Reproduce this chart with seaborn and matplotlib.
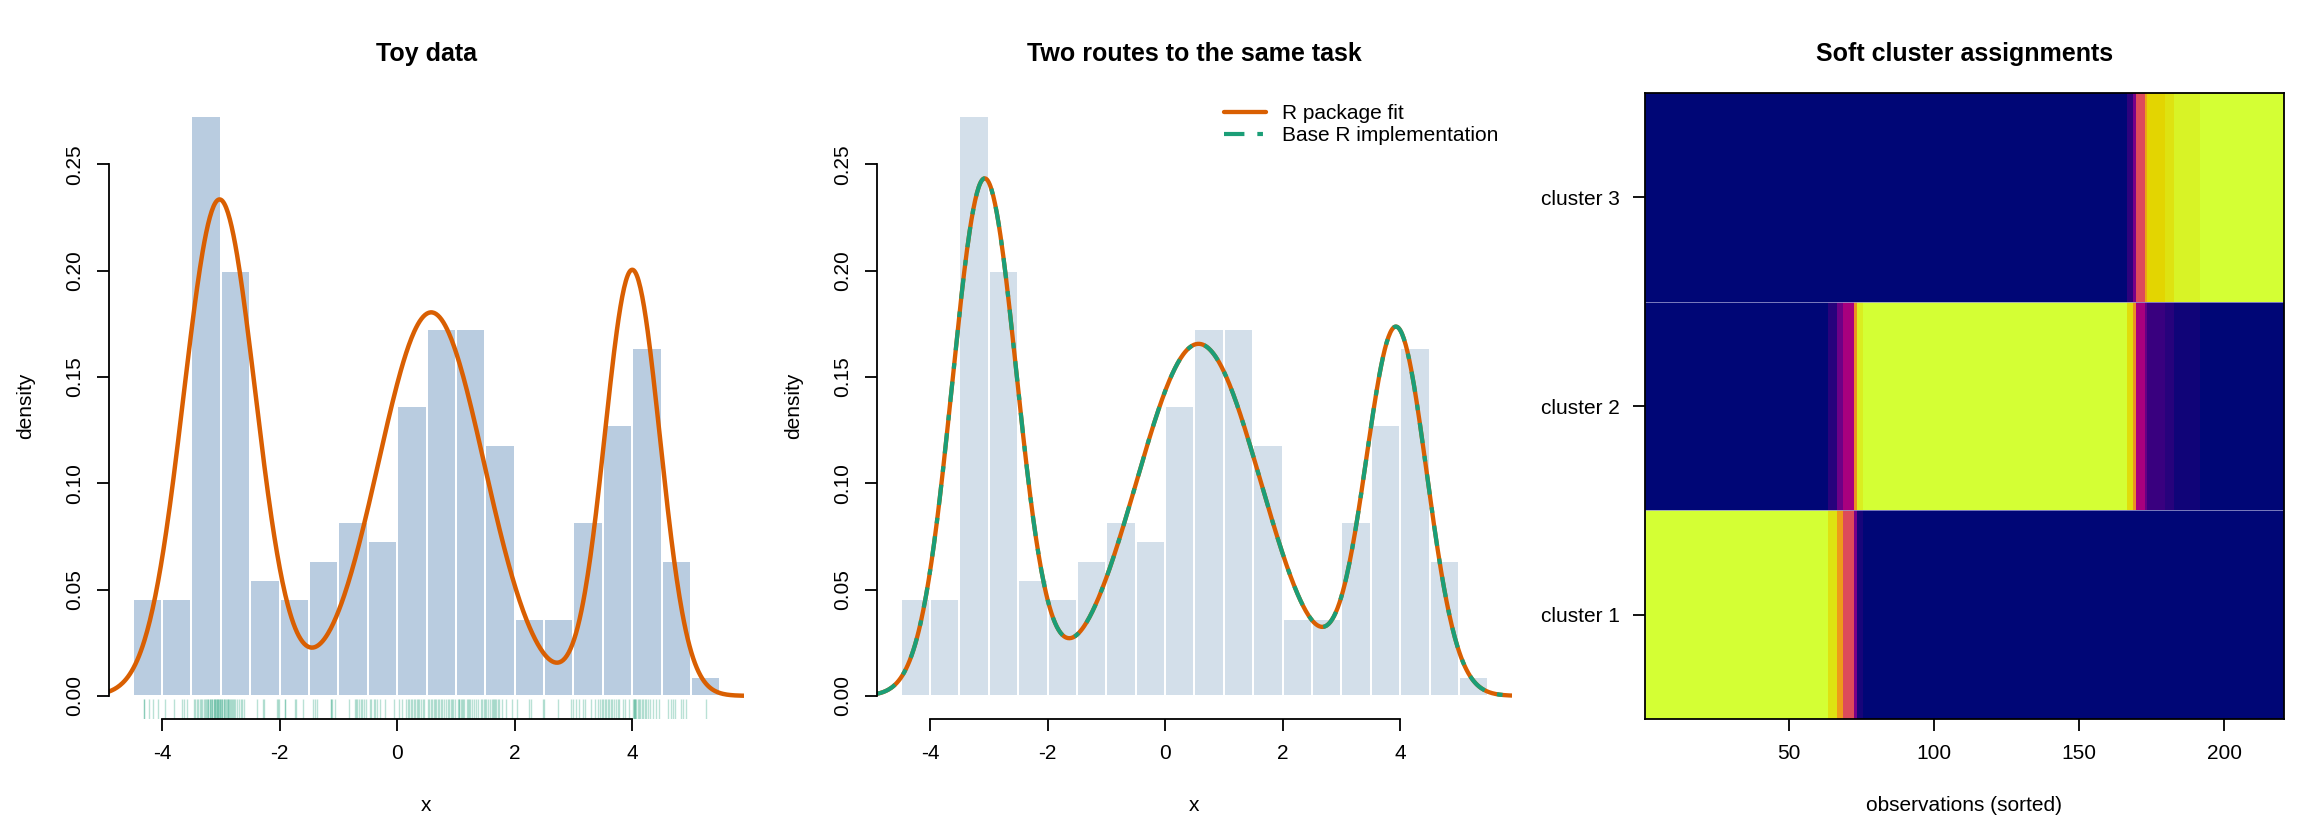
import numpy as np
import pandas as pd
import matplotlib
matplotlib.use("Agg")
import matplotlib.pyplot as plt
import seaborn as sns
from matplotlib.colors import LinearSegmentedColormap

# ---------------- data ----------------
# toy observations (rug), grouped by histogram bin of width 0.5
rug_x = [
    -4.30, -4.30, -4.22, -4.15, -4.07,
    -3.95, -3.80, -3.65, -3.62, -3.57,
    -3.46, -3.44, -3.41, -3.38, -3.36, -3.33, -3.31, -3.29, -3.27, -3.25,
    -3.24, -3.22, -3.21, -3.19, -3.18, -3.16, -3.15, -3.14, -3.12, -3.11,
    -3.10, -3.09, -3.08, -3.07, -3.06, -3.05, -3.04, -3.03, -3.02, -3.01,
    -2.99, -2.98, -2.97, -2.95, -2.94, -2.93, -2.91, -2.90, -2.88, -2.87,
    -2.86, -2.84, -2.83, -2.81, -2.79, -2.77, -2.75, -2.72, -2.69, -2.66,
    -2.64, -2.60,
    -2.38, -2.28, -2.27, -2.04, -2.02, -2.01,
    -1.91, -1.90, -1.73, -1.72, -1.60,
    -1.43, -1.40, -1.37, -1.13, -1.12, -1.10, -1.05,
    -0.82, -0.72, -0.70, -0.69, -0.65, -0.62, -0.59, -0.56, -0.53,
    -0.46, -0.44, -0.39, -0.37, -0.34, -0.29, -0.20, -0.05,
    0.03, 0.09, 0.15, 0.18, 0.21, 0.24, 0.26, 0.28, 0.31, 0.33, 0.35, 0.38, 0.40, 0.44, 0.46,
    0.52, 0.55, 0.58, 0.60, 0.62, 0.64, 0.66, 0.69, 0.71, 0.74, 0.77, 0.79, 0.83, 0.86, 0.88,
    0.91, 0.93, 0.95, 0.98,
    1.03, 1.05, 1.06, 1.09, 1.11, 1.12, 1.14, 1.19, 1.20, 1.22, 1.24, 1.28, 1.30, 1.34, 1.37,
    1.42, 1.45, 1.48, 1.49,
    1.52, 1.55, 1.58, 1.61, 1.63, 1.65, 1.67, 1.68, 1.71, 1.74, 1.78, 1.85, 1.95,
    2.04, 2.24, 2.28, 2.48,
    2.50, 2.73, 2.96, 2.99,
    3.05, 3.10, 3.16, 3.19, 3.29, 3.36, 3.41, 3.45, 3.48,
    3.51, 3.53, 3.56, 3.59, 3.61, 3.64, 3.66, 3.69, 3.72, 3.75, 3.78, 3.84, 3.87, 3.95,
    4.02, 4.03, 4.03, 4.04, 4.05, 4.07, 4.09, 4.11, 4.13, 4.16, 4.18, 4.21, 4.24, 4.27, 4.30,
    4.35, 4.41, 4.46,
    4.61, 4.65, 4.69, 4.72, 4.83, 4.86, 4.92,
    5.26,
]
hist_breaks = [-4.5, -4.0, -3.5, -3.0, -2.5, -2.0, -1.5, -1.0, -0.5, 0.0, 0.5,
               1.0, 1.5, 2.0, 2.5, 3.0, 3.5, 4.0, 4.5, 5.0, 5.5]

# Gaussian-mixture fits (weights, means, sds)
toy_weights = [0.357, 0.407, 0.236]
toy_means = [-3.02, 0.58, 4.00]
toy_sds = [0.61, 0.90, 0.47]

fit_weights = [0.335, 0.440, 0.225]
fit_means = [-3.07, 0.57, 3.93]
fit_sds = [0.55, 1.06, 0.52]

# soft assignments: runs of sorted observations with constant posterior
seg_len = [63, 3, 2, 4, 1, 2, 91, 2, 1, 3, 1, 6, 3, 9, 29]
post_c1 = [1.00, 0.93, 0.78, 0.60, 0.25, 0.04, 0.00, 0.00, 0.00, 0.00, 0.00, 0.00, 0.00, 0.00, 0.00]
post_c2 = [0.00, 0.07, 0.22, 0.40, 0.75, 0.96, 1.00, 0.92, 0.75, 0.40, 0.20, 0.10, 0.07, 0.03, 0.00]
post_c3 = [0.00, 0.00, 0.00, 0.00, 0.00, 0.00, 0.00, 0.08, 0.25, 0.60, 0.80, 0.90, 0.93, 0.97, 1.00]
cluster_labels = ["cluster 1", "cluster 2", "cluster 3"]
obs_ticks = [50, 100, 150, 200]

x_ticks = [-4, -2, 0, 2, 4]
y_ticks = [0.00, 0.05, 0.10, 0.15, 0.20, 0.25]

# ---------------- style ----------------
sns.set_theme(style="white")
plt.rcParams["font.family"] = ["Liberation Sans", "DejaVu Sans"]
plt.rcParams.update({
    "text.color": "black", "axes.labelcolor": "black",
    "xtick.color": "black", "ytick.color": "black",
    "axes.edgecolor": "black",
})

ORANGE = "#D95F02"
GREEN = "#1B9E77"
BAR_DARK = "#B9CCE0"
BAR_LIGHT = "#D3DFEA"
FS = 15
XLIM = (-4.9, 5.9)
YLIM = (-0.0109, 0.2836)

W, H = 2304, 825
fig = plt.figure(figsize=(W / 100, H / 100), dpi=100)


def panel(l, r, b=719, t=93):
    return fig.add_axes([l / W, 1 - b / H, (r - l) / W, (b - t) / H])


ax1 = panel(109, 744)
ax2 = panel(877, 1512)
ax3 = panel(1645, 2284)


def mixture_density(grid, w, mu, sd):
    grid = np.asarray(grid)
    out = np.zeros_like(grid)
    for wk, mk, sk in zip(w, mu, sd):
        out += wk * np.exp(-(grid - mk) ** 2 / (2 * sk ** 2)) / (sk * np.sqrt(2 * np.pi))
    return out


grid = np.linspace(XLIM[0], XLIM[1], 700)


def r_axes(ax):
    for s in ["top", "right"]:
        ax.spines[s].set_visible(False)
    for s in ["left", "bottom"]:
        ax.spines[s].set_linewidth(1.3)
        ax.spines[s].set_color("black")
    ax.spines["left"].set_bounds(y_ticks[0], y_ticks[-1])
    ax.spines["bottom"].set_bounds(x_ticks[0], x_ticks[-1])
    ax.set_xlim(*XLIM)
    ax.set_ylim(*YLIM)
    ax.set_xticks(x_ticks)
    ax.set_xticklabels([str(v) for v in x_ticks])
    ax.set_yticks(y_ticks)
    ax.set_yticklabels([f"{v:.2f}" for v in y_ticks])
    ax.tick_params(axis="both", direction="out", length=8.6, width=1.3,
                   labelsize=FS, pad=9.5, bottom=True, left=True)
    for lab in ax.get_yticklabels():
        lab.set_rotation(90)
        lab.set_va("center")
        lab.set_ha("right")
    ax.set_xlabel("x", fontsize=FS)
    ax.set_ylabel("density", fontsize=FS)
    ax.xaxis.set_label_coords(0.5, (719 - 796) / 626)
    ax.yaxis.set_label_coords((35 - 109) / 635, 0.5)
    ax.grid(False)


# ---------------- panel 1: toy data ----------------
sns.histplot(x=rug_x, bins=hist_breaks, stat="density", ax=ax1, color=BAR_DARK,
             edgecolor="white", linewidth=1.44, alpha=1)
sns.rugplot(x=rug_x, ax=ax1, height=0.032, color=GREEN, alpha=0.3, lw=1.1,
            expand_margins=False)
sns.lineplot(x=grid, y=mixture_density(grid, toy_weights, toy_means, toy_sds),
             ax=ax1, color=ORANGE, lw=3.2)
r_axes(ax1)
ax1.set_title("Toy data", fontsize=18, fontweight="bold", pad=23)

# ---------------- panel 2: two routes ----------------
sns.histplot(x=rug_x, bins=hist_breaks, stat="density", ax=ax2, color=BAR_LIGHT,
             edgecolor="white", linewidth=1.44, alpha=1)
fit_curve = mixture_density(grid, fit_weights, fit_means, fit_sds)
sns.lineplot(x=grid, y=fit_curve, ax=ax2, color=ORANGE, lw=3.1, label="R package fit")
sns.lineplot(x=grid, y=fit_curve, ax=ax2, color=GREEN, lw=3.0,
             label="Base R implementation")
green_line = ax2.get_lines()[-1]
green_line.set_dashes([4.9, 3.1, 1.35, 3.1])
green_line.set_dash_capstyle("butt")
r_axes(ax2)
ax2.set_title("Two routes to the same task", fontsize=18, fontweight="bold", pad=23)
ax2.legend(loc="upper left", bbox_to_anchor=((1224 - 877) / 635, (719 - 104) / 626),
           frameon=False, fontsize=FS, borderpad=0, borderaxespad=0,
           handlelength=2.0, handletextpad=0.8, labelspacing=0.15)

# ---------------- panel 3: soft assignments ----------------
post = np.vstack([np.repeat(post_c3, seg_len),
                  np.repeat(post_c2, seg_len),
                  np.repeat(post_c1, seg_len)])
df = pd.DataFrame(post, index=cluster_labels[::-1],
                  columns=np.arange(1, post.shape[1] + 1))
cmap = LinearSegmentedColormap.from_list("hclplasma", [
    (0.00, "#000676"), (0.10, "#3A007F"), (0.25, "#7A0088"), (0.40, "#A8007E"),
    (0.55, "#D4326A"), (0.65, "#E6634A"), (0.78, "#EE9A1A"), (0.90, "#E3D400"),
    (1.00, "#D4FF34")])
sns.heatmap(df, ax=ax3, cmap=cmap, vmin=0, vmax=1, cbar=False,
            xticklabels=False, yticklabels=False)
for yb in [1, 2]:
    ax3.axhline(yb, color="#9A9AD0", lw=0.7, alpha=0.8)
ax3.set_xticks([t - 0.5 for t in obs_ticks])
ax3.set_xticklabels([str(t) for t in obs_ticks])
ax3.set_yticks([0.5, 1.5, 2.5])
ax3.set_yticklabels(cluster_labels[::-1], rotation=0)
for s in ax3.spines.values():
    s.set_visible(True)
    s.set_linewidth(1.3)
    s.set_color("black")
ax3.tick_params(axis="both", direction="out", length=8.6, width=1.3,
                labelsize=FS, pad=9.5, bottom=True, left=True)
ax3.set_xlabel("observations (sorted)", fontsize=FS)
ax3.set_ylabel("")
ax3.xaxis.set_label_coords(0.5, (719 - 796) / 626)
ax3.set_title("Soft cluster assignments", fontsize=18, fontweight="bold", pad=23)

fig.savefig("out.png", dpi=100)
